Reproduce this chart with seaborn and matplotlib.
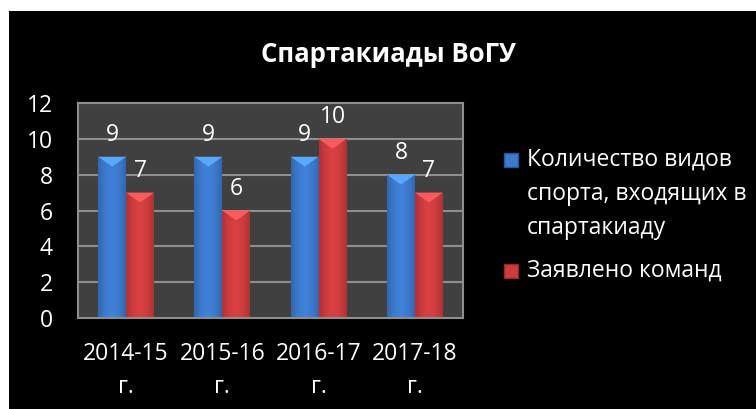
import numpy as np
import pandas as pd
import matplotlib
matplotlib.use("Agg")
import matplotlib.pyplot as plt
import seaborn as sns
from matplotlib.patches import Rectangle, Polygon
from matplotlib.colors import to_rgb

# data
seasons = ["2014-15\nг.", "2015-16\nг.", "2016-17\nг.", "2017-18\nг."]
sports_count = [9, 9, 9, 8]
teams_count = [7, 6, 10, 7]
series_names = ["Количество видов\nспорта, входящих в\nспартакиаду", "Заявлено команд"]
title = "Спартакиады ВоГУ"
y_ticks = [0, 2, 4, 6, 8, 10, 12]

blue = "#3c79cc"
red = "#cc3c3e"

df = pd.DataFrame({
    "season": seasons * 2,
    "value": sports_count + teams_count,
    "series": [series_names[0]] * len(seasons) + [series_names[1]] * len(seasons),
})

sns.set_theme(style="dark")
plt.rcParams["font.family"] = ["Open Sans", "DejaVu Sans"]

W, H = 756, 409
fig = plt.figure(figsize=(W / 100, H / 100), dpi=100, facecolor="white")
# black chart area with a thin white margin on top and left
fig.patches.append(Rectangle((9 / W, 0), 1 - 9 / W, 1 - 11 / H,
                             transform=fig.transFigure, facecolor="black",
                             edgecolor="none", zorder=-10))

ax = fig.add_axes([78 / W, 1 - 318 / H, 385 / W, 215 / H])
ax.set_facecolor("#404040")

sns.barplot(data=df, x="season", y="value", hue="series", hue_order=series_names,
            palette=[blue, red], width=0.58, ax=ax, legend=False,
            saturation=1, edgecolor="none")

# fake the glossy cylinder look of the original bars
def shade_bar(patch, color):
    x0, y0 = patch.get_x(), patch.get_y()
    w, h = patch.get_width(), patch.get_height()
    base = np.array(to_rgb(color))
    t = np.linspace(0, 1, 64)
    f = 0.72 + 0.34 * np.sin(np.pi * (0.12 + 0.76 * t))
    grad = np.clip(base[None, None, :] * f[None, :, None], 0, 1)
    im = ax.imshow(grad, extent=[x0, x0 + w, y0, y0 + h], aspect="auto",
                   origin="lower", zorder=2, interpolation="bilinear")
    im.set_clip_path(patch)
    d = 0.55
    light = np.clip(base * 1.25 + 0.06, 0, 1)
    tri = Polygon([(x0, y0 + h), (x0 + w, y0 + h), (x0 + w / 2, y0 + h - d)],
                  closed=True, facecolor=light, edgecolor="none", zorder=3)
    ax.add_patch(tri)

for cont, col in zip(ax.containers, [blue, red]):
    for p in cont.patches:
        shade_bar(p, col)
    ax.bar_label(cont, padding=7, color="white", fontsize=16.5)

ax.set_xlim(-0.5, len(seasons) - 0.5)
ax.set_ylim(0, 12)
ax.set_yticks(y_ticks)
ax.set_xlabel("")
ax.set_ylabel("")
ax.grid(False)
for v in y_ticks[1:-1]:
    ax.axhline(v, color="#8e8e8e", lw=1.5, zorder=1)
ax.tick_params(axis="both", colors="white", labelsize=16.5, length=0)
ax.tick_params(axis="y", pad=18)
ax.tick_params(axis="x", pad=17)
for lab in ax.get_xticklabels():
    lab.set_linespacing(1.5)
for s in ax.spines.values():
    s.set_visible(True)
    s.set_color("#8e8e8e")
    s.set_linewidth(1.5)

fig.text(388 / W, 1 - 55 / H, title, ha="center", va="center",
         color="white", fontsize=18.5, fontweight="bold")

# legend drawn by hand so the square sits on the first text line
legend_tops = [160, 271]   # pixel y of the first line centre of each entry
for name, col, yc in zip(series_names, [blue, red], legend_tops):
    base = np.array(to_rgb(col))
    fig.patches.append(Rectangle((504 / W, 1 - (yc + 7) / H), 14 / W, 14 / H,
                                 transform=fig.transFigure, facecolor=col,
                                 edgecolor=np.clip(base * 0.7, 0, 1), lw=1))
    fig.text(527 / W, 1 - (yc - 12) / H, name, ha="left", va="top",
             color="white", fontsize=16.5, linespacing=1.55)

fig.savefig("out.png", dpi=100, facecolor="white")
